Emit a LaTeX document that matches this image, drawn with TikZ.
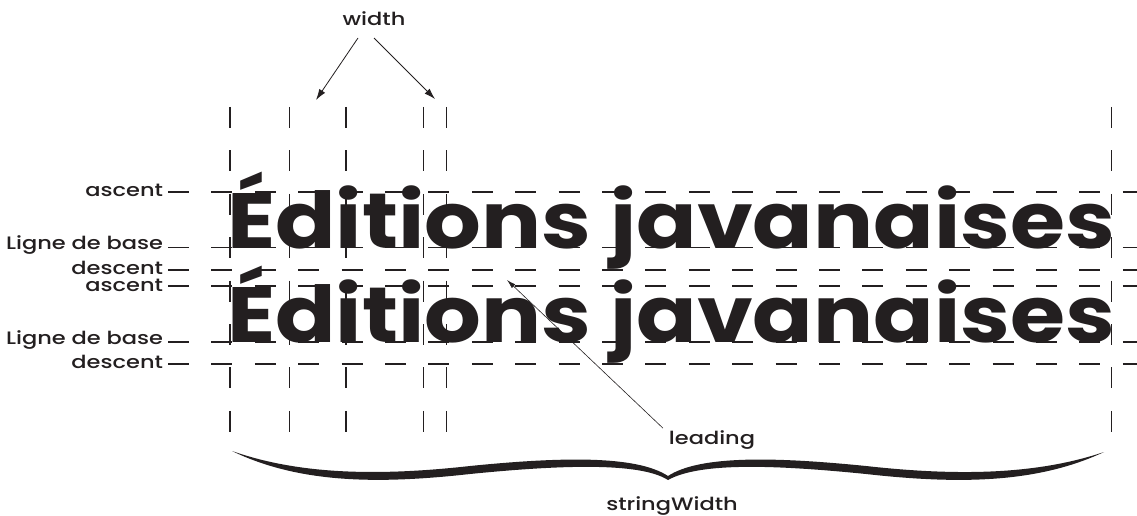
\documentclass[tikz,border=0pt]{standalone}
\usepackage{fontspec}
\usepackage{graphicx}
\usetikzlibrary{arrows.meta}
\newfontfamily\titlefont{Poppins}
\newfontfamily\labelfont{Poppins}[UprightFont={* Medium}, FakeStretch=1.25]
\definecolor{ink}{RGB}{35,31,32}
\newlength\titlew
\newlength\titlecap
\begin{document}
\settowidth{\titlew}{\titlefont\bfseries Éditions javanaises}%
\settoheight{\titlecap}{\titlefont\bfseries E}%
\pgfmathsetmacro\tsx{888pt/\titlew}%
\pgfmathsetmacro\tsy{55pt/\titlecap}%
\begin{tikzpicture}[x=1pt,y=-1pt,
  guide/.style={draw=ink, line width=1.1pt, dash pattern=on 21pt off 22.4pt},
  lbl/.style={font=\labelfont\fontsize{18}{18}\selectfont, text=ink, inner sep=0pt, outer sep=0pt},
  arr/.style={draw=ink, line width=0.8pt, -{Latex[length=11pt,width=7pt]}},
  arrs/.style={draw=ink, line width=0.6pt, -{Latex[length=9pt,width=5pt]}},
  titlebox/.style={anchor=base west, inner sep=0pt, outer sep=0pt, text=ink}]
\useasboundingbox (0,0) rectangle (1137,516);
% guide lines
\foreach \y in {192,247.5,270,286,342,364}{
  \draw[guide] (168,\y) -- (1137,\y);
}
\foreach \x in {230,289.5,346,423.5,446.5,1111.5}{
  \draw[guide] (\x,107) -- (\x,432);
}
% the two lines of text
\node[titlebox] (line1) at (227,248) {\scalebox{\tsx}[\tsy]{\titlefont\bfseries Éditions javanaises}};
\node[titlebox] (line2) at (227,342) {\scalebox{\tsx}[\tsy]{\titlefont\bfseries Éditions javanaises}};
% left labels
\node[lbl, anchor=east] (asc1) at (163,190) {ascent};
\node[lbl, anchor=east] (base1) at (163,245) {Ligne de base};
\node[lbl, anchor=east] (desc1) at (163,268) {descent};
\node[lbl, anchor=east] (asc2) at (163,285) {ascent};
\node[lbl, anchor=east] (base2) at (163,340) {Ligne de base};
\node[lbl, anchor=east] (desc2) at (163,362) {descent};
% width
\node[lbl, anchor=base] (w) at (374,26) {width};
\coordinate (wl) at (316,100);
\coordinate (wr) at (435,99);
\draw[arr] ([xshift=-16pt,yshift=-12pt]w.base) -- (wl);
\draw[arr] ([yshift=-12pt]w.base) -- (wr);
% leading
\node[lbl, anchor=base] (lead) at (712,444) {leading};
\coordinate (leadtip) at (507,280);
\draw[arrs] ([xshift=-6pt,yshift=2pt]lead.north west) -- (leadtip);
% brace
\fill[ink] (232,451)
  .. controls (300,484) and (380,484) .. (470,474)
  .. controls (560,465) and (640,462) .. (668,480)
  .. controls (700,462) and (776,465) .. (866,474)
  .. controls (956,484) and (1036,484) .. (1104,452)
  .. controls (1036,475) and (956,476) .. (866,466)
  .. controls (776,457) and (700,455) .. (668,476)
  .. controls (636,455) and (560,457) .. (470,466)
  .. controls (380,476) and (300,475) .. (232,451) -- cycle;
\node[lbl, anchor=base] (sw) at (672,510) {stringWidth};
\end{tikzpicture}
\end{document}
